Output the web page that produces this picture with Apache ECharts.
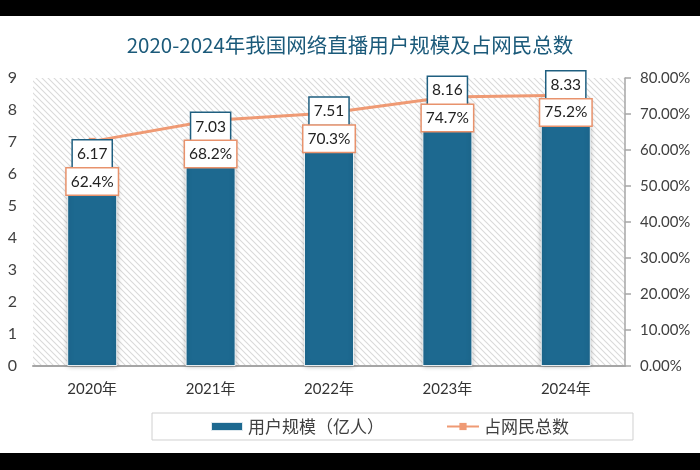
<!DOCTYPE html>
<html>
<head>
<meta charset="utf-8">
<script src="https://cdn.jsdelivr.net/npm/echarts@6/dist/echarts.min.js"></script>
<style>
  html, body { margin: 0; padding: 0; background: #fff; }
  #main { width: 700px; height: 470px; }
</style>
</head>
<body>
<div id="main"></div>
<script>
// data
const years = ['2020年', '2021年', '2022年', '2023年', '2024年'];
const users = [6.17, 7.03, 7.51, 8.16, 8.33];   // 用户规模（亿人）
const share = [62.4, 68.2, 70.3, 74.7, 75.2];   // 占网民总数 (%)

// diagonal hatch for the plot background
function hatch() {
  let c = document.createElement('canvas');
  c.width = 6; c.height = 6;
  let g = c.getContext('2d');
  g.fillStyle = '#fff';
  g.fillRect(0, 0, 6, 6);
  g.strokeStyle = '#dadada';
  g.lineWidth = 1.1;
  g.beginPath();
  for (let k = -1; k <= 1; k++) {
    g.moveTo(-1 + k * 6, -1);
    g.lineTo(7 + k * 6, 7);
  }
  g.stroke();
  return c;
}

const font = 'Lato, "Noto Sans CJK SC", sans-serif';
let chart = echarts.init(document.getElementById('main'));

chart.setOption({
  backgroundColor: '#fff',
  animation: false,
  graphic: [
    {type: 'rect', left: 0, top: 0, shape: {width: 700, height: 16}, style: {fill: '#000'}},
    {type: 'rect', left: 0, top: 453, shape: {width: 700, height: 17}, style: {fill: '#000'}}
  ],
  title: {
    text: '2020-2024年我国网络直播用户规模及占网民总数',
    left: 'center',
    top: 30,
    textStyle: {
      fontFamily: '"Noto Sans CJK SC", sans-serif',
      fontWeight: 'normal',
      fontSize: 20.5,
      color: '#1b5a7a'
    }
  },
  legend: {
    left: 152,
    top: 413,
    itemWidth: 32,
    itemHeight: 9,
    itemGap: 62,
    padding: [5, 64, 5, 58],
    borderColor: '#d0d0d0',
    borderWidth: 1,
    textStyle: {fontFamily: '"Noto Sans CJK SC", sans-serif', fontSize: 17, color: '#404040'},
    data: [{name: '用户规模（亿人）', icon: 'rect'}, {name: '占网民总数'}]
  },
  grid: {
    left: 33,
    right: 75,
    top: 78,
    bottom: 104,
    show: true,
    borderWidth: 0,
    backgroundColor: {image: hatch(), repeat: 'repeat'}
  },
  xAxis: {
    type: 'category',
    data: years,
    axisLine: {lineStyle: {color: '#a6a6a6', width: 2}},
    axisTick: {show: false},
    axisLabel: {margin: 16, fontFamily: font, fontSize: 15, color: '#333'}
  },
  yAxis: [
    {
      type: 'value',
      min: 0,
      max: 9,
      interval: 1,
      axisLine: {show: false},
      axisTick: {show: false},
      splitLine: {show: false},
      axisLabel: {margin: 16, fontFamily: font, fontSize: 16, color: '#404040'}
    },
    {
      type: 'value',
      position: 'right',
      min: 0,
      max: 80,
      interval: 10,
      axisLine: {show: true, lineStyle: {color: '#a6a6a6', width: 1.5}},
      axisTick: {show: true, length: 6, lineStyle: {color: '#a6a6a6', width: 1.5}},
      splitLine: {show: false},
      axisLabel: {
        margin: 15,
        fontFamily: font,
        fontSize: 15,
        color: '#404040',
        formatter: v => v.toFixed(2) + '%'
      }
    }
  ],
  series: [
    {
      name: '用户规模（亿人）',
      type: 'bar',
      z: 3,
      barWidth: 50,
      data: users,
      itemStyle: {
        color: '#1d6990',
        borderColor: 'rgba(255,255,255,0.85)',
        borderWidth: 1,
        shadowBlur: 5,
        shadowColor: 'rgba(0,0,0,0.3)'
      },
      label: {
        show: true,
        position: 'top',
        distance: 0,
        offset: [0, 26],
        formatter: p => '{v|' + users[p.dataIndex].toFixed(2) + '}\n{s| }\n{p|' + share[p.dataIndex].toFixed(1) + '%}',
        rich: {
          v: {
            fontFamily: font, fontSize: 15.5, color: '#222', lineHeight: 27, height: 19,
            backgroundColor: '#fff', borderColor: '#1f5f80', borderWidth: 1.5,
            padding: [4, 4, 4, 4]
          },
          s: {fontSize: 1, lineHeight: 1, height: 1},
          p: {
            fontFamily: font, fontSize: 15.5, color: '#222', lineHeight: 26, height: 18,
            backgroundColor: '#fff', borderColor: '#e8926c', borderWidth: 1.5,
            padding: [4, 4, 4, 4]
          }
        }
      }
    },
    {
      name: '占网民总数',
      type: 'line',
      yAxisIndex: 1,
      z: 2,
      data: share,
      symbol: 'rect',
      symbolSize: 7,
      itemStyle: {color: '#ef9a74'},
      lineStyle: {color: '#ef9a74', width: 3}
    }
  ]
});
</script>
</body>
</html>
